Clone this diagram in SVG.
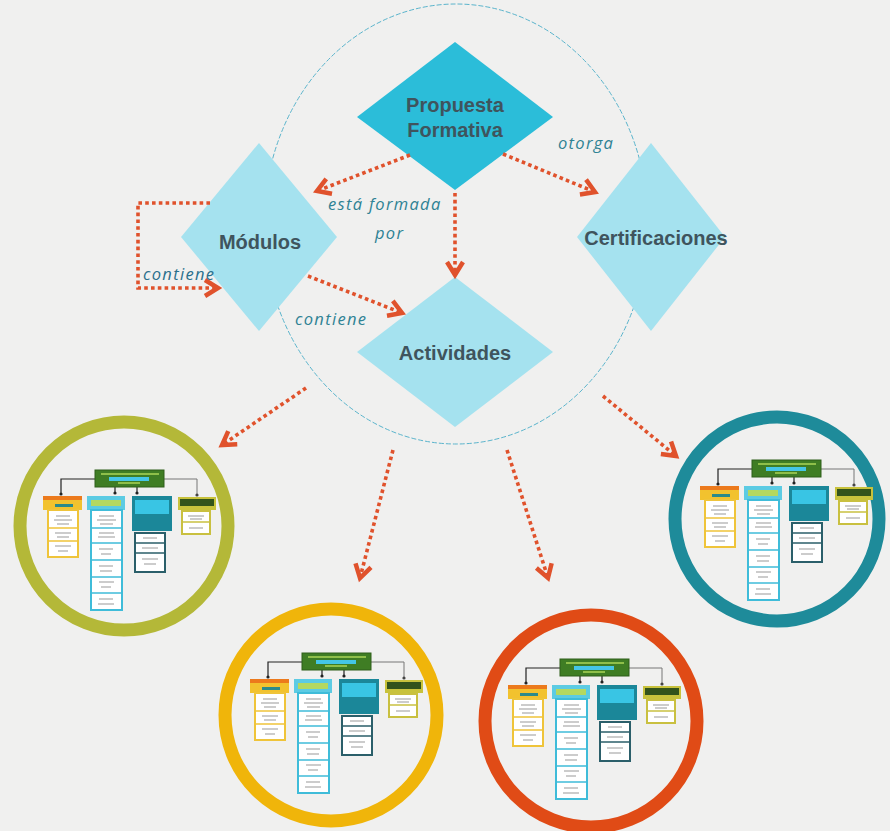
<svg xmlns="http://www.w3.org/2000/svg" xmlns:xlink="http://www.w3.org/1999/xlink" width="890" height="831" viewBox="0 0 890 831">
<style>
.node-dark{fill:#2bbdd9}
.node-light{fill:#a5e2ef}
.nlabel{font-family:"Liberation Sans",Arial,sans-serif;font-weight:bold;font-size:20px;fill:#3f545d;text-anchor:middle}
.elabel{font-family:"Open Sans","DejaVu Sans",sans-serif;font-style:italic;font-size:16.5px;fill:#2e8294;letter-spacing:1.3px}
.conn{fill:none;stroke:#e0522c;stroke-width:3.6;stroke-dasharray:3.6 3.2;marker-end:url(#ah)}
.ring{fill:none;stroke-width:13}
.scrib{fill:none;stroke:#9a9a9a;stroke-width:1.2}
</style>
<defs>
<marker id="ah" viewBox="0 0 22 22" refX="17" refY="11" markerWidth="22" markerHeight="22" markerUnits="userSpaceOnUse" orient="auto">
<path d="M4,3 L17,11 L4,19" fill="none" stroke="#e0522c" stroke-width="4.5" stroke-linejoin="miter"/>
</marker>
<g id="minimap">
<path d="M52,9 H18 V24" stroke="#222" stroke-width="1.2" fill="none"/>
<path d="M121,9 H154 V25" stroke="#777" stroke-width="1" fill="none"/>
<path d="M72,17 V23 M94,17 V23" stroke="#222" stroke-width="1.2"/>
<circle cx="18" cy="24" r="1.6" fill="#222"/>
<circle cx="72" cy="23" r="1.6" fill="#222"/>
<circle cx="94" cy="23" r="1.6" fill="#222"/>
<circle cx="154" cy="25" r="1.6" fill="#444"/>
<rect x="52" y="0" width="69" height="17" fill="#3f7d24" stroke="#2f5f1a"/>
<rect x="58" y="3" width="58" height="2" fill="#8fbf4a"/>
<rect x="66" y="7" width="40" height="4" fill="#44c6e6"/>
<rect x="75" y="12" width="22" height="2" fill="#8fbf4a"/>
<rect x="0" y="26" width="39" height="14" fill="#f2c22e"/>
<rect x="0" y="26" width="39" height="4" fill="#ec7a1c"/>
<rect x="12" y="34" width="18" height="3" fill="#2b8a8a"/>
<rect x="5" y="40" width="30" height="47" fill="#fff" stroke="#efc43a" stroke-width="2"/>
<path d="M5,58 H35 M5,71 H35" stroke="#efc43a" stroke-width="1.5"/>
<rect x="44" y="26" width="38" height="14" fill="#5ccbe3"/>
<rect x="48" y="30" width="30" height="6" fill="#b4d860"/>
<rect x="48" y="40" width="31" height="100" fill="#fff" stroke="#3fbcd9" stroke-width="2"/>
<path d="M48,58 H79 M48,73 H79 M48,90 H79 M48,107 H79 M48,123 H79" stroke="#3fbcd9" stroke-width="1.5"/>
<rect x="89" y="26" width="40" height="35" fill="#1b8799"/>
<rect x="92" y="30" width="34" height="14" fill="#39c5e4"/>
<rect x="92" y="63" width="30" height="39" fill="#fff" stroke="#2b5f6a" stroke-width="2"/>
<path d="M92,73 H122 M92,83 H122" stroke="#2b5f6a" stroke-width="1.5"/>
<rect x="135" y="27" width="38" height="13" fill="#c8c23c"/>
<rect x="137" y="29" width="34" height="7" fill="#33531b"/>
<rect x="139" y="41" width="28" height="23" fill="#fff" stroke="#c9c040" stroke-width="2"/>
<path d="M139,52 H167" stroke="#c9c040" stroke-width="1.5"/>
<path class="scrib" d="M13,46 h14 M11,50 h18 M14,54 h12 M12,63 h16 M14,67 h12 M12,76 h16 M15,81 h10 M56,46 h15 M54,50 h19 M57,54 h13 M56,63 h15 M55,67 h17 M56,79 h14 M58,84 h10 M56,96 h14 M57,101 h12 M56,112 h15 M58,117 h10 M56,129 h14 M55,134 h16 M100,68 h14 M99,78 h16 M99,89 h16 M101,94 h12 M145,46 h16 M147,49 h12 M146,58 h14"/>
</g>
</defs>
<rect width="890" height="831" fill="#f0f0ef"/>
<ellipse cx="456" cy="224" rx="192" ry="220" fill="none" stroke="#5ab4cc" stroke-width="1" stroke-dasharray="5 2"/>

<g id="node-propuesta">
<polygon class="node-dark" points="455,42 553,117 455,190 357,117"/>
<text class="nlabel" x="455" y="112">Propuesta</text>
<text class="nlabel" x="455" y="137">Formativa</text>
</g>
<g id="node-modulos">
<polygon class="node-light" points="259,143 337,237 259,331 181,237"/>
<text class="nlabel" x="260" y="249">Módulos</text>
</g>
<g id="node-actividades">
<polygon class="node-light" points="455,277 553,352 455,427 357,352"/>
<text class="nlabel" x="455" y="360">Actividades</text>
</g>
<g id="node-certificaciones">
<polygon class="node-light" points="651,143 725,237 651,331 577,237"/>
<text class="nlabel" x="656" y="245">Certificaciones</text>
</g>

<g id="map-olive">
<circle class="ring" cx="124" cy="526" r="104" stroke="#b4b838"/>
<use xlink:href="#minimap" href="#minimap" transform="translate(43,470)"/>
</g>
<g id="map-teal">
<circle class="ring" cx="777" cy="519" r="102" stroke="#1e8b9a"/>
<use xlink:href="#minimap" href="#minimap" transform="translate(700,460)"/>
</g>
<g id="map-yellow">
<circle class="ring" cx="331" cy="715" r="106" stroke="#f0b50a"/>
<use xlink:href="#minimap" href="#minimap" transform="translate(250,653)"/>
</g>
<g id="map-red">
<circle class="ring" cx="591" cy="721" r="106" stroke="#e04b16"/>
<use xlink:href="#minimap" href="#minimap" transform="translate(508,659)"/>
</g>

<g id="connectors">
<path class="conn" d="M410,155 L317,191"/>
<path class="conn" d="M503,154 L595,192"/>
<path class="conn" d="M455,193 L455,275"/>
<path class="conn" d="M308,276 L402,313"/>
<path class="conn" d="M210,203 H138 V288 H218"/>
<path class="conn" d="M306,388 L222,445"/>
<path class="conn" d="M393,450 L360,578"/>
<path class="conn" d="M507,450 L548,578"/>
<path class="conn" d="M603,396 L676,456"/>
<text class="elabel" x="558" y="149">otorga</text>
<text class="elabel" x="328" y="210">está formada</text>
<text class="elabel" x="375" y="239">por</text>
<text class="elabel" x="143" y="280" style="fill:#2a6f8c">contiene</text>
<text class="elabel" x="295" y="325">contiene</text>
</g>
</svg>
